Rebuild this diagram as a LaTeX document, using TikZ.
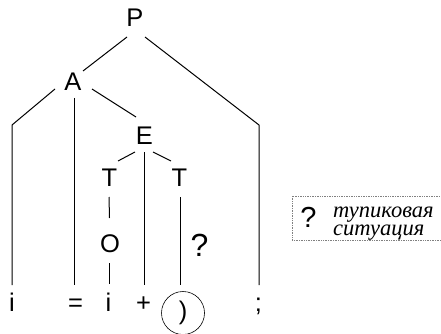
\documentclass[tikz,border=0pt]{standalone}
\usepackage{fontspec}
\setmainfont{Liberation Sans}
\newfontfamily\legendfont{Liberation Serif}
\begin{document}
\begin{tikzpicture}[x=1pt,y=-1pt,
  lbl/.style={inner sep=0pt,font=\fontsize{25.5}{28}\selectfont},
  leaf/.style={lbl,anchor=base},
  edge/.style={line width=1pt,black},
  qmark/.style={inner sep=0pt,font=\fontsize{32}{36}\selectfont},
  legendbox/.style={draw=gray,densely dotted,line width=0.7pt},
  legendtext/.style={inner sep=0pt,anchor=base west,font=\legendfont\itshape\fontsize{22.5}{18}\selectfont}]
\useasboundingbox (0,0) rectangle (441,334);
% interior nodes
\node[lbl] (P) at (135,18) {P};
\node[lbl] (A) at (73,82) {A};
\node[lbl] (E) at (144.5,135.5) {E};
\node[lbl] (T1) at (109.5,177.5) {T};
\node[lbl] (T2) at (179.5,177.5) {T};
\node[lbl] (O) at (110,244) {O};
% leaves
\node[leaf] (i1) at (12,311) {i};
\node[leaf] (eq) at (75.5,311) {=};
\node[leaf] (i2) at (108.5,311) {i};
\node[leaf] (plus) at (143.5,311) {+};
\node[circle,draw,line width=0.6pt,minimum size=43pt,inner sep=0pt,font=\fontsize{25.5}{28}\selectfont] (rp) at (183,313) {)};
\node[leaf] (semi) at (258.5,311) {;};
\node[qmark] (q) at (199.5,245) {?};
% kinks
\coordinate (kA) at (12,125);
\coordinate (kP) at (259,125);
% edges
\draw[edge] ([shift={(-8,19)}]P.center) -- ([shift={(10,-11)}]A.center);
\draw[edge] ([shift={(10,19)}]P.center) -- (kP) -- ([shift={(0.5,-26)}]semi.base);
\draw[edge] ([shift={(-18,7)}]A.center) -- (kA) -- ([shift={(0,-26)}]i1.base);
\draw[edge] ([shift={(1,16)}]A.center) -- ([shift={(-1.5,-26)}]eq.base);
\draw[edge] ([shift={(19,7)}]A.center) -- ([shift={(-8.5,-18.5)}]E.center);
\draw[edge] ([shift={(-9.5,16.5)}]E.center) -- ([shift={(8.5,-16.5)}]T1.center);
\draw[edge] ([shift={(-0.5,16.5)}]E.center) -- ([shift={(0.5,-26)}]plus.base);
\draw[edge] ([shift={(8.5,16.5)}]E.center) -- ([shift={(-8.5,-16.5)}]T2.center);
\draw[edge] ([shift={(-0.5,19.5)}]T1.center) -- ([shift={(-0.5,-26)}]O.center);
\draw[edge] ([shift={(-1,19)}]O.center) -- ([shift={(0.5,-27)}]i2.base);
\draw[edge] ([shift={(0.5,19.5)}]T2.center) -- ([shift={(-3,-28)}]rp.center);
% legend
\draw[legendbox] (292,196) rectangle (446,240);
\node[inner sep=0pt,font=\fontsize{29}{32}\selectfont] (lq) at (308.5,217.5) {?};
\node[legendtext] (l1) at (333,217) {тупиковая};
\node[legendtext] (l2) at (333,235) {ситуация};
\end{tikzpicture}
\end{document}
